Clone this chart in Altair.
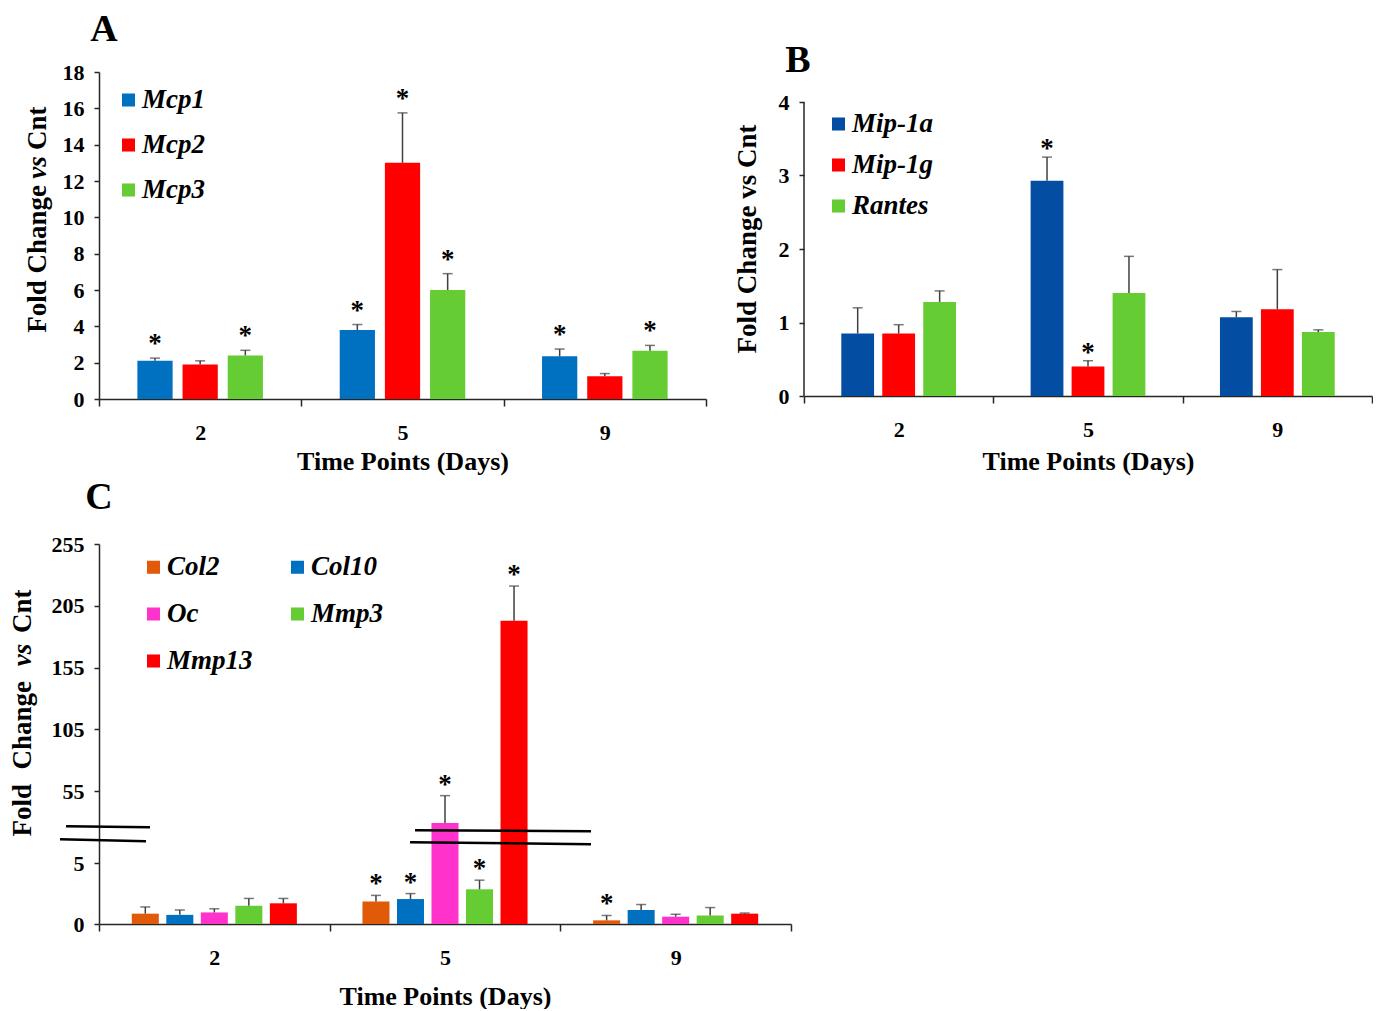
import altair as alt
import pandas as pd

FONT = "Liberation Serif"
AX = "#262626"
ERR = "#404040"

days = ["2", "5", "9"]

# ---------------- Panel A ----------------
a_genes = ["Mcp1", "Mcp2", "Mcp3"]
a_colors = ["#0070C0", "#FF0000", "#66CC33"]
mcp1_mean = [2.1, 3.8, 2.35]
mcp1_se = [0.15, 0.3, 0.4]
mcp1_sig = [1, 1, 1]
mcp2_mean = [1.9, 13.0, 1.25]
mcp2_se = [0.2, 2.75, 0.15]
mcp2_sig = [0, 1, 0]
mcp3_mean = [2.4, 6.0, 2.65]
mcp3_se = [0.28, 0.9, 0.3]
mcp3_sig = [1, 1, 1]
a_yticks = [0, 2, 4, 6, 8, 10, 12, 14, 16, 18]

# ---------------- Panel B ----------------
b_genes = ["Mip-1a", "Mip-1g", "Rantes"]
b_colors = ["#034EA2", "#FF0000", "#66CC33"]
mip1a_mean = [0.85, 2.93, 1.07]
mip1a_se = [0.35, 0.32, 0.08]
mip1a_sig = [0, 1, 0]
mip1g_mean = [0.85, 0.4, 1.18]
mip1g_se = [0.12, 0.08, 0.54]
mip1g_sig = [0, 1, 0]
rantes_mean = [1.28, 1.4, 0.87]
rantes_se = [0.15, 0.5, 0.03]
rantes_sig = [0, 0, 0]
b_yticks = [0, 1, 2, 3, 4]

# ---------------- Panel C ----------------
c_genes = ["Col2", "Col10", "Oc", "Mmp3", "Mmp13"]
c_colors = ["#E05A0A", "#0070C0", "#FF33CC", "#66CC33", "#FF0000"]
col2_mean = [0.85, 1.85, 0.3]
col2_se = [0.55, 0.5, 0.4]
col2_sig = [0, 1, 1]
col10_mean = [0.75, 2.05, 1.15]
col10_se = [0.4, 0.45, 0.45]
col10_sig = [0, 1, 0]
oc_mean = [0.95, 33.0, 0.6]
oc_se = [0.3, 19.0, 0.2]
oc_sig = [0, 1, 0]
mmp3_mean = [1.5, 2.85, 0.7]
mmp3_se = [0.6, 0.75, 0.65]
mmp3_sig = [0, 1, 0]
mmp13_mean = [1.7, 193.0, 0.85]
mmp13_se = [0.4, 28.0, 0.05]
mmp13_sig = [0, 1, 0]
c_ytick_labels = [0, 5, 55, 105, 155, 205, 255]

# broken-axis break marks (in broken-axis display units / pixel x)
brk_x1 = [-33, -39, 316, 311]
brk_x2 = [51, 47, 492, 492]
brk_y1 = [8.03, 6.97, 7.70, 6.72]
brk_y2 = [7.95, 6.80, 7.62, 6.56]


def disp(v):
    if v <= 5:
        return v
    if v <= 55:
        return 5 + (v - 5) * 0.118
    return 10.9 + (v - 55) * 0.1016


def disp_expr(v):
    return (f"({v} <= 5 ? {v} : ({v} <= 55 ? 5 + ({v} - 5) * 0.118 : "
            f"10.9 + ({v} - 55) * 0.1016))")


def make_df(genes, means, ses, sigs):
    rows = []
    for g, m, s, sg in zip(genes, means, ses, sigs):
        for d, mv, sv, sgv in zip(days, m, s, sg):
            rows.append({"day": d, "gene": g, "mean": mv, "se": sv, "sig": sgv})
    return pd.DataFrame(rows)


one = pd.DataFrame({"k": [0]})


def txt(text, x, y, size, angle=0, align="center", baseline="middle", style="normal"):
    return alt.Chart(one).mark_text(
        text=text, font=FONT, fontSize=size, fontWeight="bold", fontStyle=style,
        angle=angle, align=align, baseline=baseline, color="black"
    ).encode(x=alt.value(x), y=alt.value(y))


def panel(df, genes, colors, width, height, ydom, yvals, off_in, off_out, legend,
          annots, xtitle_pad, star_dy, tf=None, label_expr=None, domain=True, extra=None):
    if tf is None:
        yv_expr, ye_expr = "datum.mean", "datum.mean + datum.se"
    else:
        yv_expr, ye_expr = tf("datum.mean"), tf("(datum.mean + datum.se)")
    base = alt.Chart(df).transform_calculate(yv=yv_expr, ye=ye_expr)
    yscale = alt.Scale(domain=ydom, nice=False, zero=True)
    ax_kw = dict(title=None, values=yvals, domain=domain, grid=False, tickSize=5,
                 labelPadding=10, labelFontSize=22, labelFontWeight="bold",
                 labelFont=FONT, labelColor="black", domainColor=AX, tickColor=AX,
                 domainWidth=1.5, tickWidth=1.5)
    if label_expr:
        ax_kw["labelExpr"] = label_expr
    yaxis = alt.Axis(**ax_kw)
    xaxis = alt.Axis(title="Time Points (Days)", labelAngle=0, tickBand="extent",
                     tickSize=7, labelPadding=16, labelFontSize=22, labelFontWeight="bold",
                     labelFont=FONT, labelColor="black", domainColor=AX, tickColor=AX,
                     domainWidth=1.5, tickWidth=1.5, titleFont=FONT, titleFontSize=26,
                     titleFontWeight="bold", titleColor="black", titlePadding=xtitle_pad)
    X = alt.X("day:N", sort=days, scale=alt.Scale(paddingInner=0, paddingOuter=0),
              axis=xaxis)
    XO = alt.XOffset("gene:N", sort=genes,
                     scale=alt.Scale(paddingInner=off_in, paddingOuter=off_out))
    color = alt.Color("gene:N", scale=alt.Scale(domain=genes, range=colors), legend=legend)
    Yv = alt.Y("yv:Q", scale=yscale, axis=yaxis)
    Ye = alt.Y("ye:Q", scale=yscale, axis=yaxis)
    bars = base.mark_bar().encode(x=X, xOffset=XO, y=Yv, color=color)
    err = base.mark_rule(color=ERR, strokeWidth=1.5).encode(x=X, xOffset=XO, y=Yv, y2="ye:Q")
    cap = base.mark_tick(color=ERR, thickness=1.5, size=10).encode(x=X, xOffset=XO, y=Ye)
    star = base.transform_filter("datum.sig == 1").mark_text(
        text="*", font=FONT, fontSize=27, fontWeight="bold", baseline="alphabetic",
        dy=star_dy, color="black").encode(x=X, xOffset=XO, y=Ye)
    layers = [bars, err, cap, star]
    if extra is not None:
        layers += extra(yscale, yaxis)
    layers += annots
    return alt.layer(*layers).properties(width=width, height=height)


def leg(x, y, rowpad, size, columns=1, colpad=10):
    return alt.Legend(orient="none", legendX=x, legendY=y, title=None, symbolType="square",
                      symbolSize=170, symbolStrokeWidth=0, labelFont=FONT, labelFontSize=size,
                      labelFontStyle="italic", labelFontWeight="bold", labelColor="black",
                      rowPadding=rowpad, labelOffset=0, padding=0, columns=columns,
                      columnPadding=colpad, symbolOpacity=1, direction="horizontal")


# ---- A ----
dfa = make_df(a_genes, [mcp1_mean, mcp2_mean, mcp3_mean], [mcp1_se, mcp2_se, mcp3_se],
              [mcp1_sig, mcp2_sig, mcp3_sig])
annots_a = [
    txt("A", 5, -31, 38, baseline="alphabetic"),
    txt("Cnt", -61, 78, 27, angle=270, align="left"),
    txt("vs", -61, 95.5, 27, angle=270, style="italic"),
    txt("Fold Change", -61, 113, 27, angle=270, align="right"),
]
chart_a = panel(dfa, a_genes, a_colors, 607, 327, [0, 18], a_yticks, 0.22, 0.85,
                leg(16, 14.5, 17, 27, columns=1), annots_a, 5, -6)

# ---- B ----
dfb = make_df(b_genes, [mip1a_mean, mip1g_mean, rantes_mean], [mip1a_se, mip1g_se, rantes_se],
              [mip1a_sig, mip1g_sig, rantes_sig])
b_top = 4 * 324 / 294


def b_axis_line(yscale, yaxis):
    d = pd.DataFrame({"lo": [b_yticks[0]], "hi": [b_yticks[-1]]})
    return [alt.Chart(d).mark_rule(color=AX, strokeWidth=1.5).encode(
        x=alt.value(0), y=alt.Y("lo:Q", scale=yscale, axis=yaxis), y2="hi:Q")]


annots_b = [
    txt("B", -6, 0, 38, baseline="alphabetic"),
    txt("Fold Change vs Cnt", -56, 167, 27, angle=270),
]
chart_b = panel(dfb, b_genes, b_colors, 568, 324, [0, b_top], b_yticks, 0.2, 0.91,
                leg(21, 38.5, 13, 27, columns=1), annots_b, 8, 0,
                domain=False, extra=b_axis_line)

# ---- C ----
dfc = make_df(c_genes, [col2_mean, col10_mean, oc_mean, mmp3_mean, mmp13_mean],
              [col2_se, col10_se, oc_se, mmp3_se, mmp13_se],
              [col2_sig, col10_sig, oc_sig, mmp3_sig, mmp13_sig])
c_yvals = [disp(v) for v in c_ytick_labels]
c_label_expr = ("datum.value <= 5.01 ? format(datum.value, 'd') : "
                "format(55 + (datum.value - 10.9) / 0.1016, '.0f')")


def c_breaks(yscale, yaxis):
    d = pd.DataFrame({"y1": brk_y1, "y2": brk_y2})
    out = []
    for i in range(len(brk_x1)):
        out.append(alt.Chart(d.iloc[[i]]).mark_rule(color="black", strokeWidth=2.5).encode(
            x=alt.value(brk_x1[i]), x2=alt.value(brk_x2[i]),
            y=alt.Y("y1:Q", scale=yscale, axis=yaxis), y2="y2:Q"))
    return out


annots_c = [
    txt("C", 0, -35, 38, baseline="alphabetic"),
    txt("Cnt", -76, 89, 27, angle=270, align="left"),
    txt("vs", -76, 111, 27, angle=270, style="italic"),
    txt("Change", -76, 137, 27, angle=270, align="right"),
    txt("Fold", -76, 240, 27, angle=270, align="right"),
]
chart_c = panel(dfc, c_genes, c_colors, 692, 380, [0, disp(255)], c_yvals, 0.217, 0.95,
                leg(41, 9.5, 19, 27, columns=2, colpad=31), annots_c, 15, -3,
                tf=disp_expr, label_expr=c_label_expr, extra=c_breaks)

chart = alt.concat(chart_a, chart_b, chart_c, columns=2, bounds="flush",
                   spacing={"row": 145, "column": 13}).resolve_scale(
    color="independent", xOffset="independent"
).properties(
    padding={"left": 1, "top": 3, "right": 0, "bottom": 0}
).configure(font=FONT).configure_view(strokeWidth=0, stroke="transparent")

chart.save("out.html", embed_options={"renderer": "svg", "actions": False})
